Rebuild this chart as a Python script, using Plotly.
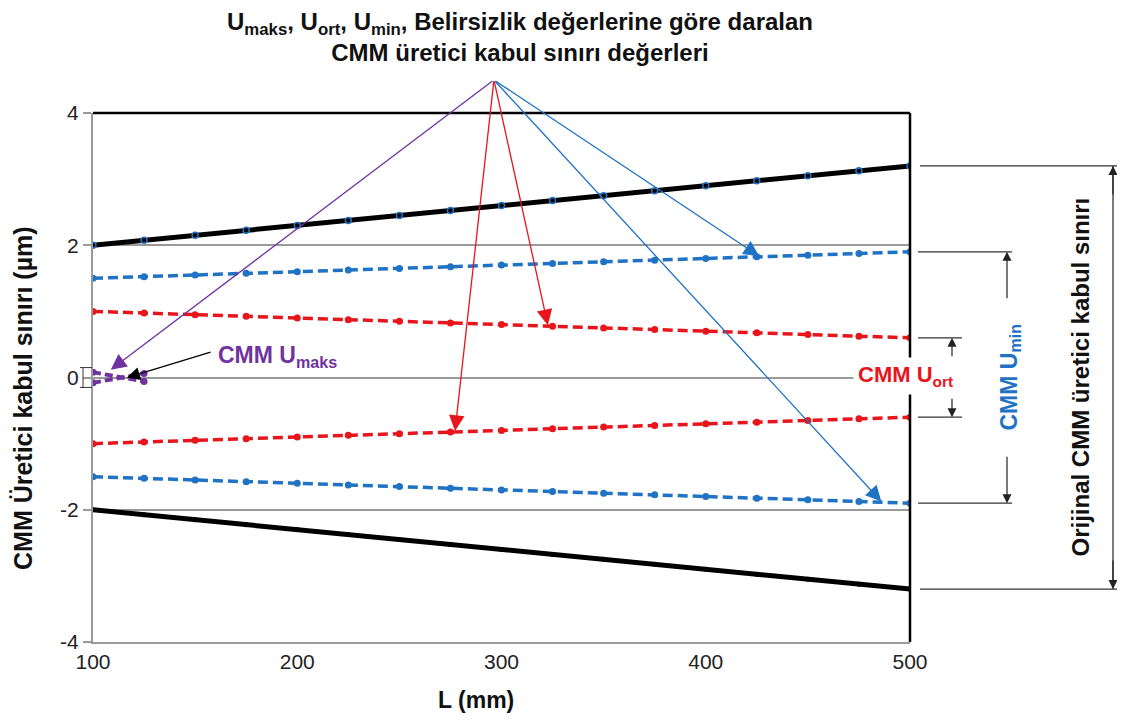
import plotly.graph_objects as go

# ---- data ----
L = [100, 125, 150, 175, 200, 225, 250, 275, 300, 325, 350, 375, 400, 425, 450, 475, 500]
orig_upper = [2.0, 2.075, 2.15, 2.225, 2.3, 2.375, 2.45, 2.525, 2.6, 2.675, 2.75, 2.825, 2.9, 2.975, 3.05, 3.125, 3.2]
orig_lower = [-2.0, -2.075, -2.15, -2.225, -2.3, -2.375, -2.45, -2.525, -2.6, -2.675, -2.75, -2.825, -2.9, -2.975, -3.05, -3.125, -3.2]
umin_upper = [1.5, 1.525, 1.55, 1.575, 1.6, 1.625, 1.65, 1.675, 1.7, 1.725, 1.75, 1.775, 1.8, 1.825, 1.85, 1.875, 1.9]
umin_lower = [-1.5, -1.525, -1.55, -1.575, -1.6, -1.625, -1.65, -1.675, -1.7, -1.725, -1.75, -1.775, -1.8, -1.825, -1.85, -1.875, -1.9]
uort_upper = [1.0, 0.975, 0.95, 0.925, 0.9, 0.875, 0.85, 0.825, 0.8, 0.775, 0.75, 0.725, 0.7, 0.675, 0.65, 0.625, 0.6]
uort_lower = [-1.0, -0.975, -0.95, -0.925, -0.9, -0.875, -0.85, -0.825, -0.8, -0.775, -0.75, -0.725, -0.7, -0.675, -0.65, -0.625, -0.6]
L_maks = [100, 125]
umaks_upper = [0.08, -0.06]
umaks_lower = [-0.08, 0.06]

x_ticks = [100, 200, 300, 400, 500]
y_ticks = [-4, -2, 0, 2, 4]
y_ticklabels = ["-4", "-2", "0", "2", "4"]
Y_MIN, Y_MAX = -4, 4

BLACK = "#000000"
BLUE = "#1F72C4"
RED = "#E8161C"
PURPLE = "#7032A0"
GRAY = "#9A9A9A"
FONT = "Liberation Sans, Arial, sans-serif"

PLOT_W, PLOT_H = 817.0, 529.0


def yp(v):
    return (v - Y_MIN) / (Y_MAX - Y_MIN)


def val(series, xs, x):
    for i in range(len(xs) - 1):
        if xs[i] <= x <= xs[i + 1]:
            t = (x - xs[i]) / (xs[i + 1] - xs[i])
            return series[i] + t * (series[i + 1] - series[i])
    return series[-1]


fig = go.Figure()

fig.add_trace(go.Scatter(x=L, y=orig_upper, mode="lines+markers",
                         line=dict(color=BLACK, width=5),
                         marker=dict(size=6, color="rgba(0,0,0,0)", line=dict(color=BLUE, width=1.5)),
                         showlegend=False))
fig.add_trace(go.Scatter(x=L, y=orig_lower, mode="lines+markers",
                         line=dict(color=BLACK, width=5),
                         marker=dict(size=5, color=BLACK),
                         showlegend=False))
for s in (umin_upper, umin_lower):
    fig.add_trace(go.Scatter(x=L, y=s, mode="lines+markers",
                             line=dict(color=BLUE, width=3.5, dash="10px,5px"),
                             marker=dict(size=7, color=BLUE), showlegend=False))
for s in (uort_upper, uort_lower):
    fig.add_trace(go.Scatter(x=L, y=s, mode="lines+markers",
                             line=dict(color=RED, width=3.5, dash="10px,5px"),
                             marker=dict(size=7, color=RED), showlegend=False))
for s in (umaks_upper, umaks_lower):
    fig.add_trace(go.Scatter(x=L_maks, y=s, mode="lines+markers",
                             line=dict(color=PURPLE, width=4, dash="8px,4px"),
                             marker=dict(size=7, color=PURPLE), showlegend=False))

px = 1 / PLOT_W
shapes = []
# frame: top and right black lines
shapes.append(dict(type="line", xref="paper", yref="paper", x0=0, x1=1, y0=1, y1=1,
                   line=dict(color=BLACK, width=2.5)))
shapes.append(dict(type="line", xref="paper", yref="paper", x0=1, x1=1, y0=0, y1=1,
                   line=dict(color=BLACK, width=2.5)))
# I-bracket at zero on left axis
shapes.append(dict(type="line", xref="paper", yref="paper", x0=-10 * px, x1=-10 * px,
                   y0=yp(-0.15), y1=yp(0.15), line=dict(color="#333333", width=1)))
for v in (-0.15, 0.15):
    shapes.append(dict(type="line", xref="paper", yref="paper", x0=-13 * px, x1=-1 * px,
                       y0=yp(v), y1=yp(v), line=dict(color="#333333", width=1)))
# dimension lines on the right
for v in (orig_upper[-1], orig_lower[-1]):
    shapes.append(dict(type="line", xref="paper", yref="paper", x0=1 + 10 * px, x1=1 + 215 * px,
                       y0=yp(v), y1=yp(v), line=dict(color="#333333", width=1.2)))
shapes.append(dict(type="line", xref="paper", yref="paper", x0=1 + 203 * px, x1=1 + 203 * px,
                   y0=yp(orig_lower[-1]), y1=yp(orig_upper[-1]), line=dict(color="#222222", width=1.2)))
for v in (umin_upper[-1], umin_lower[-1]):
    shapes.append(dict(type="line", xref="paper", yref="paper", x0=1 + 8 * px, x1=1 + 102 * px,
                       y0=yp(v), y1=yp(v), line=dict(color="#333333", width=1.2)))
for v in (uort_upper[-1], uort_lower[-1]):
    shapes.append(dict(type="line", xref="paper", yref="paper", x0=1 + 8 * px, x1=1 + 52 * px,
                       y0=yp(v), y1=yp(v), line=dict(color="#333333", width=1.2)))

annotations = []
# title
annotations.append(dict(xref="paper", yref="paper", x=(520 - 93) / PLOT_W, y=(642 - 37) / PLOT_H,
                        showarrow=False, xanchor="center", yanchor="middle",
                        text="<b>U<sub>maks</sub>, U<sub>ort</sub>, U<sub>min</sub>, Belirsizlik değerlerine göre daralan<br>CMM üretici kabul sınırı değerleri</b>",
                        font=dict(family=FONT, size=24, color="#111111")))

# pointer arrows from a common origin
tail_L, tail_y = 296.3, 4.5
heads = [
    (108.3, 0.11, PURPLE),
    (322.8, val(uort_upper, L, 322.8), RED),
    (277.2, val(uort_lower, L, 277.2), RED),
    (426.6, val(umin_upper, L, 426.6), BLUE),
    (486.3, val(umin_lower, L, 486.3), BLUE),
]
for hx, hy, c in heads:
    annotations.append(dict(x=hx, y=hy, xref="x", yref="y", ax=tail_L, ay=tail_y,
                            axref="x", ayref="y", text="", showarrow=True,
                            arrowhead=2, arrowsize=2.4, arrowwidth=1.3, arrowcolor=c,
                            standoff=1))
# black arrow to Umaks
annotations.append(dict(x=116.6, y=0.0, xref="x", yref="y", ax=158.3, ay=0.39,
                        axref="x", ayref="y", text="", showarrow=True,
                        arrowhead=2, arrowsize=2.0, arrowwidth=1.3, arrowcolor=BLACK))
# labels
annotations.append(dict(x=160, y=0.32, xref="x", yref="y", xanchor="left", yanchor="middle",
                        showarrow=False, text="<b>CMM U<sub>maks</sub></b>",
                        font=dict(family=FONT, size=23, color=PURPLE)))
annotations.append(dict(x=1 - 5 * px, y=yp(0.02), xref="paper", yref="paper", xanchor="center",
                        yanchor="middle", showarrow=False, text="<b>CMM U<sub>ort</sub></b>",
                        bgcolor="white", borderpad=4,
                        font=dict(family=FONT, size=22, color=RED)))
annotations.append(dict(x=1 + 100 * px, y=yp(0.0), xref="paper", yref="paper", xanchor="center",
                        yanchor="middle", showarrow=False, text="<b>CMM U<sub>min</sub></b>",
                        textangle=-90, font=dict(family=FONT, size=23, color=BLUE)))
annotations.append(dict(x=1 + 170 * px, y=yp(0.0), xref="paper", yref="paper", xanchor="center",
                        yanchor="middle", showarrow=False, text="<b>Orijinal CMM üretici kabul sınırı</b>",
                        textangle=-90, font=dict(family=FONT, size=24, color="#111111")))


# dimension arrows
def dim_arrow(xpx, v_head, length_px, direction):
    # direction: +1 tail below head (arrow points up), -1 tail above head
    annotations.append(dict(x=1 + xpx * px, y=yp(v_head), xref="paper", yref="paper",
                            ax=0, ay=direction * length_px, axref="pixel", ayref="pixel",
                            text="", showarrow=True, arrowhead=2, arrowsize=1.5,
                            arrowwidth=1.2, arrowcolor="#222222"))


dim_arrow(203, orig_upper[-1], 30, 1)
dim_arrow(203, orig_lower[-1], 30, -1)
dim_arrow(97, umin_upper[-1], 48, 1)
dim_arrow(97, umin_lower[-1], 48, -1)
dim_arrow(42, uort_upper[-1], 20, 1)
dim_arrow(42, uort_lower[-1], 20, -1)

# y-axis title
annotations.append(dict(x=(23 - 93) / PLOT_W, y=(642 - 398) / PLOT_H, xref="paper", yref="paper",
                        showarrow=False, xanchor="center", yanchor="middle",
                        text="<b>CMM Üretici kabul sınırı (µm)</b>", textangle=-90,
                        font=dict(family=FONT, size=25, color="#111111")))
# x-axis title
annotations.append(dict(x=(476 - 93) / PLOT_W, y=(642 - 700) / PLOT_H, xref="paper", yref="paper",
                        showarrow=False, xanchor="center", yanchor="middle",
                        text="<b>L (mm)</b>", font=dict(family=FONT, size=23, color="#111111")))

fig.update_layout(
    width=1117, height=714,
    margin=dict(l=85, r=215, t=105, b=80),
    paper_bgcolor="white", plot_bgcolor="white",
    shapes=shapes, annotations=annotations,
    xaxis=dict(range=[100, 500], tickvals=x_ticks, showgrid=False, zeroline=False,
               showline=True, linecolor=GRAY, linewidth=2, ticks="",
               tickfont=dict(family=FONT, size=21, color="#222222")),
    yaxis=dict(range=[Y_MIN, Y_MAX], tickvals=y_ticks, ticktext=y_ticklabels,
               showgrid=True, gridcolor=GRAY,
               gridwidth=2, zeroline=False, showline=True, linecolor=GRAY, linewidth=2,
               ticks="outside", ticklen=8, tickcolor=GRAY, tickwidth=1.5,
               tickfont=dict(family=FONT, size=21, color="#222222")),
    showlegend=False,
)

fig.write_html("out.html")
